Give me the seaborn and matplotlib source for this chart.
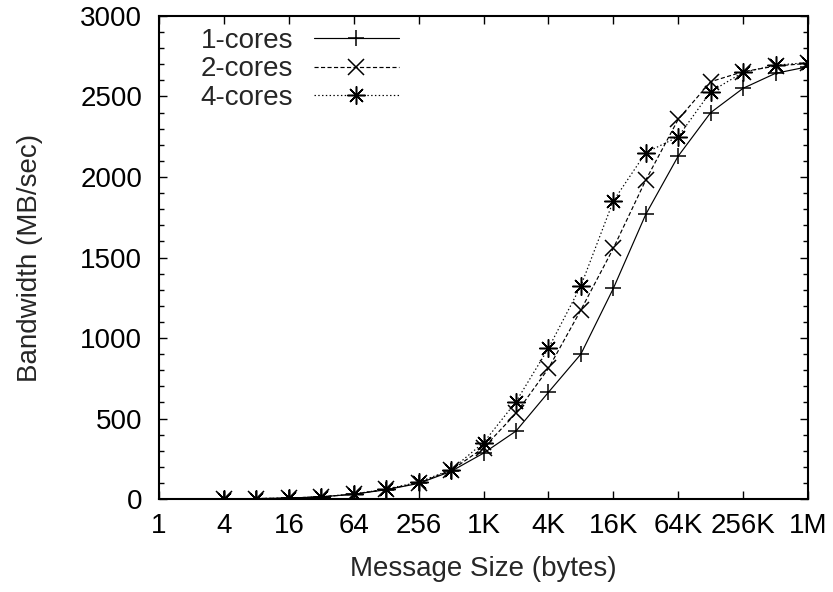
import numpy as np
import pandas as pd
import matplotlib
matplotlib.use("Agg")
import matplotlib.pyplot as plt
import seaborn as sns
from matplotlib.ticker import FixedLocator, FixedFormatter, MultipleLocator

# Message sizes in bytes (powers of two from 4 B to 1 MB)
sizes = [4, 8, 16, 32, 64, 128, 256, 512, 1024, 2048, 4096, 8192, 16384,
         32768, 65536, 131072, 262144, 524288, 1048576]

# Measured bandwidth (MB/sec)
bw_1core = [1.5, 3, 6, 14, 30, 58, 97, 172, 285, 422, 663, 900, 1308,
            1768, 2130, 2400, 2551, 2644, 2685]
bw_2core = [1.5, 3, 6, 14, 30, 60, 100, 178, 318, 532, 811, 1174, 1557,
            1981, 2358, 2592, 2654, 2689, 2706]
bw_4core = [1.5, 3, 6, 14, 31, 62, 105, 182, 350, 604, 936, 1323, 1851,
            2151, 2250, 2530, 2650, 2695, 2710]

series_names = ["1-cores", "2-cores", "4-cores"]

xtick_vals = [1, 4, 16, 64, 256, 1024, 4096, 16384, 65536, 262144, 1048576]
xtick_labels = ["1", "4", "16", "64", "256", "1K", "4K", "16K", "64K", "256K", "1M"]

df = pd.DataFrame({
    "size": sizes * 3,
    "bw": bw_1core + bw_2core + bw_4core,
    "series": np.repeat(series_names, len(sizes)),
})

sns.set_style("ticks")
plt.rcParams["font.family"] = ["Liberation Sans", "DejaVu Sans"]
FS = 20
plt.rcParams["font.size"] = FS

fig = plt.figure(figsize=(8.33, 5.92), dpi=100)
ax = fig.add_axes([0.1909, 0.157, 0.970 - 0.1909, 0.973 - 0.157])

styles = {
    "1-cores": dict(marker="+", linestyle="-", markersize=12),
    "2-cores": dict(marker="x", linestyle=(0, (3.5, 2)), markersize=11),
    "4-cores": dict(marker=(8, 2, 0), linestyle=(0, (1.2, 2)), markersize=13),
}

for name in series_names:
    sub = df[df["series"] == name]
    sns.lineplot(data=sub, x="size", y="bw", ax=ax, color="black",
                 linewidth=0.85, markeredgewidth=1.1,
                 markeredgecolor="black", markerfacecolor="black",
                 label=name, **styles[name])

ax.set_xscale("log", base=2)
ax.set_xlim(1, 1048576)
ax.set_ylim(0, 3000)

ax.xaxis.set_major_locator(FixedLocator(xtick_vals))
ax.xaxis.set_major_formatter(FixedFormatter(xtick_labels))
ax.xaxis.set_minor_locator(FixedLocator([]))
ax.yaxis.set_major_locator(MultipleLocator(500))
ax.yaxis.set_minor_locator(MultipleLocator(100))

ax.tick_params(which="both", direction="in", top=True, right=True,
               colors="black", labelsize=FS)
ax.tick_params(which="major", length=6, width=1.0)
ax.tick_params(which="minor", length=3.6, width=1.0)
ax.tick_params(axis="x", which="major", pad=10)
ax.tick_params(axis="y", which="major", pad=12)

for sp in ax.spines.values():
    sp.set_visible(True)
    sp.set_linewidth(1.5)
    sp.set_color("black")

ax.set_xlabel("Message Size (bytes)", fontsize=FS, labelpad=12)
ax.set_ylabel("Bandwidth (MB/sec)", fontsize=FS, labelpad=27)

leg = ax.legend(loc="upper left", bbox_to_anchor=(0.047, 0.999), frameon=False,
                markerfirst=False, handlelength=3.05, handletextpad=0.75,
                labelspacing=0.1, fontsize=FS, borderaxespad=0.0)

fig.savefig("out.png", dpi=100)
